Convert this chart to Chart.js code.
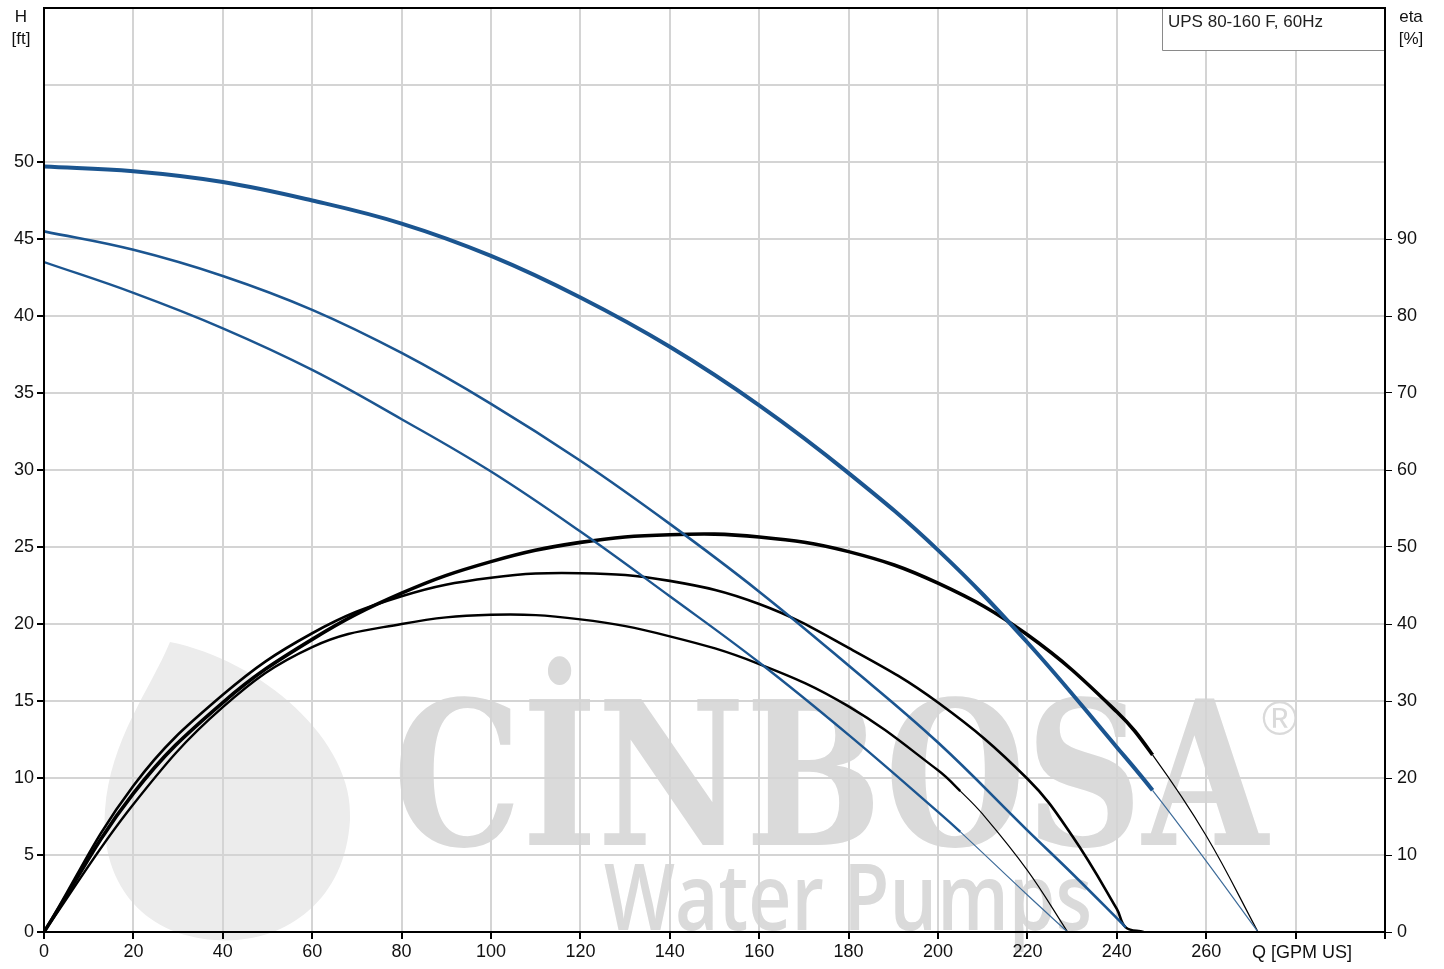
<!DOCTYPE html>
<html>
<head>
<meta charset="utf-8">
<script src="https://cdn.jsdelivr.net/npm/chart.js@4.4.0/dist/chart.umd.min.js"></script>
<style>
  html, body { margin: 0; padding: 0; background: #fff; }
  canvas { display: block; }
</style>
</head>
<body>
<canvas id="pump" width="1444" height="969"></canvas>
<script>
// UPS 80-160 F, 60Hz — pump curves (H in ft, eta in %) vs Q [GPM US]

// --- head curves (blue) ---
const qHeadTop = [0, 20, 40, 60, 80, 100, 120, 140, 160, 180, 200, 220, 240, 248, 260, 271.6];
const headTop  = [49.7, 49.4, 48.7, 47.5, 46.0, 43.9, 41.2, 38.0, 34.2, 29.8, 24.8, 18.8, 12.0, 9.2, 4.6, 0];

const qHeadMid = [0, 20, 40, 60, 80, 100, 120, 140, 160, 180, 200, 220, 230, 240, 242];
const headMid  = [45.5, 44.3, 42.6, 40.4, 37.6, 34.3, 30.6, 26.5, 22.1, 17.3, 12.3, 6.6, 3.8, 0.9, 0.3];

const qHeadLow = [0, 20, 40, 60, 80, 100, 120, 140, 160, 180, 200, 205, 220, 229];
const headLow  = [43.5, 41.5, 39.2, 36.5, 33.3, 29.9, 26.0, 21.8, 17.5, 12.8, 7.8, 6.5, 2.4, 0];

// --- efficiency curves (black) ---
const qEtaTop = [0, 20, 40, 60, 80, 100, 120, 140, 160, 180, 200, 220, 240, 248, 260, 271.6];
const etaTop  = [0, 18.0, 29.8, 38.0, 44.0, 48.1, 50.6, 51.6, 51.3, 49.4, 45.3, 38.6, 28.6, 23.0, 12.5, 0];

const qEtaMid = [0, 20, 40, 60, 80, 100, 120, 140, 160, 180, 200, 220, 230, 240, 242, 246];
const etaMid  = [0, 19.0, 30.8, 38.8, 43.6, 46.0, 46.6, 45.6, 42.6, 36.9, 29.8, 19.9, 12.5, 3.0, 0.6, 0];

const qEtaLow = [0, 20, 40, 60, 80, 100, 120, 140, 160, 180, 200, 205, 210, 220, 229];
const etaLow  = [0, 16.6, 29.2, 37.0, 40.0, 41.2, 40.6, 38.4, 34.8, 29.3, 21.0, 18.3, 15.3, 8.0, 0];

const xTicks = [0, 20, 40, 60, 80, 100, 120, 140, 160, 180, 200, 220, 240, 260];

const BLUE = '#1b5590';
const THIN_BLUE = '#3d6b99';
const FONT = "'Liberation Sans', Arial, sans-serif";

function pts(qs, vs) {
  return qs.map((q, i) => ({ x: q, y: vs[i] }));
}

// one curve; past thinFrom it goes on as a thin line (out of the working range)
function curve(qs, vs, color, thinColor, width, thinFrom, axis) {
  return {
    data: pts(qs, vs),
    yAxisID: axis,
    borderColor: color,
    borderWidth: width,
    pointRadius: 0,
    fill: false,
    tension: 0.4,
    segment: {
      borderWidth: c => (c.p0.parsed.x >= thinFrom ? 1.2 : width),
      borderColor: c => (c.p0.parsed.x >= thinFrom ? thinColor : color)
    }
  };
}

// watermark drawn under the grid, like in the original sheet
const watermark = {
  id: 'watermark',
  beforeDraw(chart) {
    const ctx = chart.ctx;
    ctx.save();
    // drop logo
    ctx.fillStyle = '#ececec';
    ctx.beginPath();
    ctx.moveTo(170, 642);
    ctx.bezierCurveTo(260, 660, 355, 740, 350, 820);
    ctx.bezierCurveTo(345, 905, 280, 945, 215, 940);
    ctx.bezierCurveTo(140, 935, 100, 880, 105, 810);
    ctx.bezierCurveTo(110, 740, 150, 690, 170, 642);
    ctx.fill();
    // brand
    ctx.fillStyle = '#dadada';
    ctx.textBaseline = 'alphabetic';
    ctx.font = "bold 200px 'DejaVu Serif', serif";
    let w = ctx.measureText('CİNBOSA').width;
    ctx.save();
    ctx.translate(393, 845);
    ctx.scale(875 / w, 1);
    ctx.fillText('CİNBOSA', 0, 0);
    ctx.restore();
    ctx.font = "48px 'Liberation Sans', sans-serif";
    ctx.fillText('®', 1262, 735);
    ctx.font = "600 92px 'Open Sans', sans-serif";
    w = ctx.measureText('Water Pumps').width;
    ctx.save();
    ctx.translate(604, 930);
    ctx.scale(488 / w, 1);
    ctx.fillText('Water Pumps', 0, 0);
    ctx.restore();
    ctx.restore();
  }
};

const decorations = {
  id: 'decorations',
  afterDraw(chart) {
    const ctx = chart.ctx;
    const a = chart.chartArea;
    ctx.save();
    // info box
    ctx.fillStyle = '#fff';
    ctx.fillRect(1162, a.top, a.right - 1162, 42);
    ctx.strokeStyle = '#8a8a8a';
    ctx.lineWidth = 1;
    ctx.beginPath();
    ctx.moveTo(1162.5, a.top);
    ctx.lineTo(1162.5, a.top + 42.5);
    ctx.lineTo(a.right, a.top + 42.5);
    ctx.stroke();
    ctx.fillStyle = '#222';
    ctx.font = '17px ' + FONT;
    ctx.textBaseline = 'middle';
    ctx.textAlign = 'left';
    ctx.fillText('UPS 80-160 F, 60Hz', 1168, a.top + 14);
    // frame
    ctx.strokeStyle = '#000';
    ctx.lineWidth = 2;
    ctx.strokeRect(a.left, a.top, a.right - a.left, a.bottom - a.top);
    // axis titles
    ctx.fillStyle = '#111';
    ctx.textAlign = 'center';
    ctx.font = '17px ' + FONT;
    ctx.fillText('H', 21, 17);
    ctx.fillText('[ft]', 21, 39);
    ctx.fillText('eta', 1411, 17);
    ctx.fillText('[%]', 1411, 39);
    ctx.textAlign = 'left';
    ctx.font = '18px ' + FONT;
    ctx.fillText('Q [GPM US]', 1252, 953);
    ctx.restore();
  }
};

new Chart(document.getElementById('pump'), {
  type: 'line',
  data: {
    datasets: [
      curve(qHeadTop, headTop, BLUE, THIN_BLUE, 4, 248, 'y'),
      curve(qHeadMid, headMid, BLUE, THIN_BLUE, 2.6, 999, 'y'),
      curve(qHeadLow, headLow, BLUE, THIN_BLUE, 2.4, 205, 'y'),
      curve(qEtaTop, etaTop, '#000', '#000', 3.6, 248, 'y2'),
      curve(qEtaMid, etaMid, '#000', '#000', 2.6, 999, 'y2'),
      curve(qEtaLow, etaLow, '#000', '#000', 2.4, 205, 'y2')
    ]
  },
  options: {
    responsive: false,
    animation: false,
    devicePixelRatio: 1,
    layout: { padding: { top: 8 } },
    plugins: { legend: { display: false }, tooltip: { enabled: false } },
    scales: {
      x: {
        type: 'linear',
        min: 0,
        max: 300,
        afterFit(s) { s.height = 37; },
        afterBuildTicks(s) { s.ticks = [...xTicks, 280, 300].map(v => ({ value: v })); },
        ticks: {
          autoSkip: false,
          maxRotation: 0,
          padding: 2,
          color: '#111',
          font: { family: FONT, size: 18 },
          callback: v => (xTicks.includes(v) ? v : '')
        },
        grid: { color: '#d4d4d4', lineWidth: 2, tickColor: '#000', tickLength: 7 },
        border: { color: '#000', width: 2 }
      },
      y: {
        position: 'left',
        min: 0,
        max: 60,
        afterFit(s) { s.width = 44; s.paddingTop = 0; s.paddingBottom = 0; },
        ticks: {
          stepSize: 5,
          padding: 3,
          color: '#111',
          font: { family: FONT, size: 18 },
          callback: v => (v <= 50 ? v : '')
        },
        grid: {
          color: '#d4d4d4',
          lineWidth: 2,
          tickColor: c => (c.tick && c.tick.value > 50 ? 'rgba(0,0,0,0)' : '#000'),
          tickLength: 7
        },
        border: { color: '#000', width: 2 }
      },
      y2: {
        position: 'right',
        min: 0,
        max: 120,
        afterFit(s) { s.width = 59; s.paddingTop = 0; s.paddingBottom = 0; },
        ticks: {
          stepSize: 10,
          padding: 5,
          color: '#111',
          font: { family: FONT, size: 18 },
          callback: v => (v <= 90 ? v : '')
        },
        grid: {
          drawOnChartArea: false,
          tickColor: c => (c.tick && c.tick.value > 90 ? 'rgba(0,0,0,0)' : '#000'),
          tickLength: 7
        },
        border: { color: '#000', width: 2 }
      }
    }
  },
  plugins: [watermark, decorations]
});
</script>
</body>
</html>
